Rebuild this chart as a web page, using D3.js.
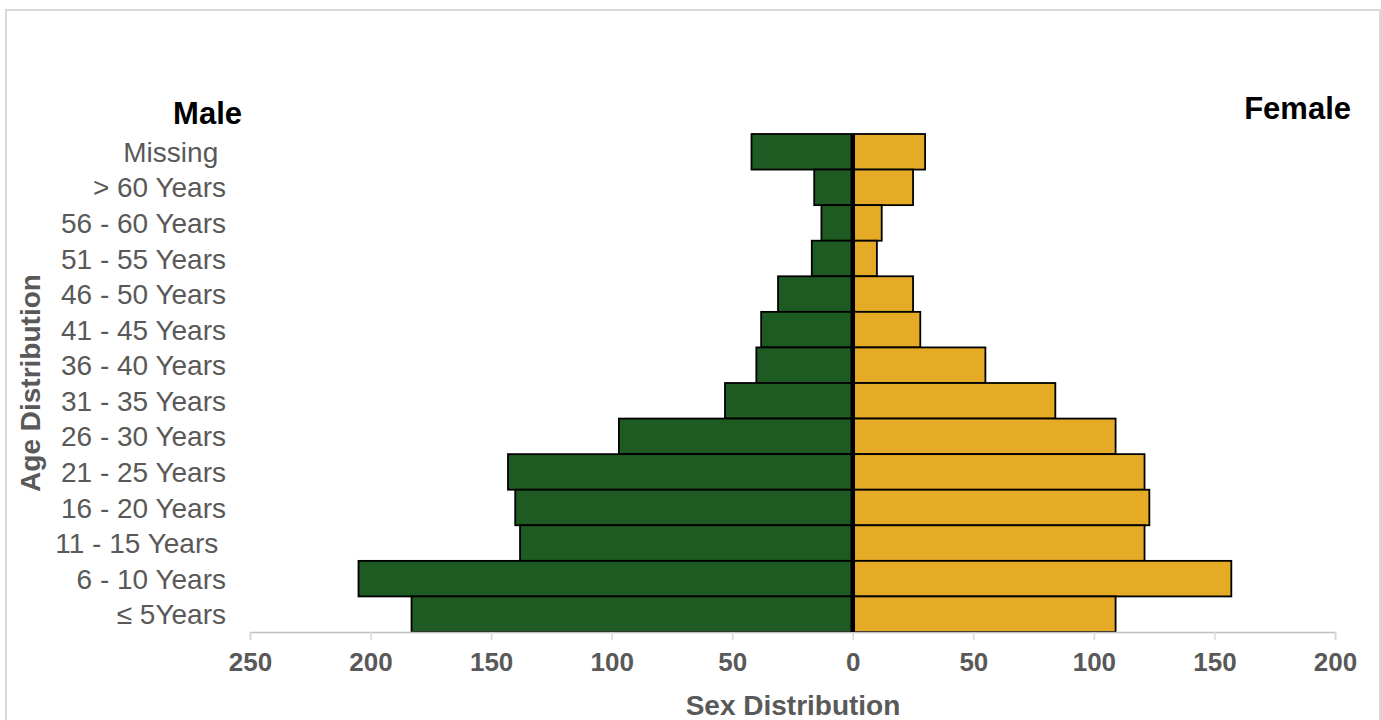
<!DOCTYPE html>
<html>
<head>
<meta charset="utf-8">
<script src="https://cdn.jsdelivr.net/npm/d3@7"></script>
<style>
  body { margin: 0; background: #fff; }
  text { font-family: "Liberation Sans", Arial, sans-serif; }
</style>
</head>
<body>
<div class="vis-pyramid"></div>
<script>
// age groups, top to bottom
const ageGroups = ["Missing ", "> 60 Years", "56 - 60 Years", "51 - 55 Years", "46 - 50 Years",
    "41 - 45 Years", "36 - 40 Years", "31 - 35 Years", "26 - 30 Years", "21 - 25 Years",
    "16 - 20 Years", "11 - 15 Years ", "6 - 10 Years", "≤ 5Years"];
const maleCounts = [42, 16, 13, 17, 31, 38, 40, 53, 97, 143, 140, 138, 205, 183];
const femaleCounts = [30, 25, 12, 10, 25, 28, 55, 84, 109, 121, 123, 121, 157, 109];
const xTicks = [-250, -200, -150, -100, -50, 0, 50, 100, 150, 200];

const width = 1381, height = 720;
const margin = { top: 134, right: 46, bottom: 88, left: 250 };

let svg = d3.select(".vis-pyramid")
    .append("svg")
    .attr("width", width)
    .attr("height", height);

// outer frame
svg.append("rect")
    .attr("x", 6).attr("y", 10)
    .attr("width", 1374).attr("height", 720)
    .attr("fill", "none")
    .attr("stroke", "#d9d9d9")
    .attr("stroke-width", 2);

let x = d3.scaleLinear()
    .domain([-250, 200])
    .range([margin.left, width - margin.right]);

let y = d3.scaleBand()
    .domain(ageGroups)
    .range([margin.top, height - margin.bottom])
    .padding(0);

const rows = ageGroups.map((g, i) => ({ group: g, male: maleCounts[i], female: femaleCounts[i] }));

// male bars (left)
svg.append("g").selectAll("rect")
    .data(rows)
    .join("rect")
    .attr("x", d => x(-d.male))
    .attr("y", d => y(d.group))
    .attr("width", d => x(0) - x(-d.male))
    .attr("height", y.bandwidth())
    .attr("fill", "#1e5b22")
    .attr("stroke", "#000")
    .attr("stroke-width", 1.8);

// female bars (right)
svg.append("g").selectAll("rect")
    .data(rows)
    .join("rect")
    .attr("x", x(0))
    .attr("y", d => y(d.group))
    .attr("width", d => x(d.female) - x(0))
    .attr("height", y.bandwidth())
    .attr("fill", "#e5aa26")
    .attr("stroke", "#000")
    .attr("stroke-width", 1.8);

// x axis
let xAxis = svg.append("g")
    .attr("transform", "translate(0," + (height - margin.bottom) + ")")
    .call(d3.axisBottom(x).tickValues(xTicks).tickSize(8).tickPadding(13)
        .tickFormat(d => Math.abs(d)));
xAxis.select(".domain").attr("stroke", "#bfbfbf").attr("stroke-width", 1.5);
xAxis.selectAll(".tick line").attr("stroke", "#d9d9d9").attr("stroke-width", 1.5);
xAxis.selectAll(".tick text")
    .attr("fill", "#595959")
    .style("font-size", "26px")
    .style("font-weight", "bold")
    .style("font-family", "'Liberation Sans', Arial, sans-serif");

// zero line
svg.append("line")
    .attr("x1", x(0)).attr("x2", x(0))
    .attr("y1", margin.top).attr("y2", height - margin.bottom)
    .attr("stroke", "#000")
    .attr("stroke-width", 4.5);

// category labels
svg.append("g").selectAll("text")
    .data(ageGroups)
    .join("text")
    .attr("x", 226)
    .attr("y", d => y(d) + y.bandwidth() / 2)
    .attr("dy", "0.36em")
    .attr("text-anchor", "end")
    .style("white-space", "pre")
    .attr("fill", "#595959")
    .style("font-size", "28px")
    .text(d => d);

// side titles
svg.append("text")
    .attr("x", 242).attr("y", 124)
    .attr("text-anchor", "end")
    .style("font-size", "31px").style("font-weight", "bold")
    .text("Male");
svg.append("text")
    .attr("x", 1351).attr("y", 119)
    .attr("text-anchor", "end")
    .style("font-size", "31px").style("font-weight", "bold")
    .text("Female");

// axis titles
svg.append("text")
    .attr("x", 793).attr("y", 715)
    .attr("text-anchor", "middle")
    .attr("fill", "#595959")
    .style("font-size", "28px").style("font-weight", "bold")
    .text("Sex Distribution");
svg.append("text")
    .attr("transform", "translate(40,383) rotate(-90)")
    .attr("text-anchor", "middle")
    .attr("fill", "#595959")
    .style("font-size", "28px").style("font-weight", "bold")
    .text("Age Distribution");
</script>
</body>
</html>
